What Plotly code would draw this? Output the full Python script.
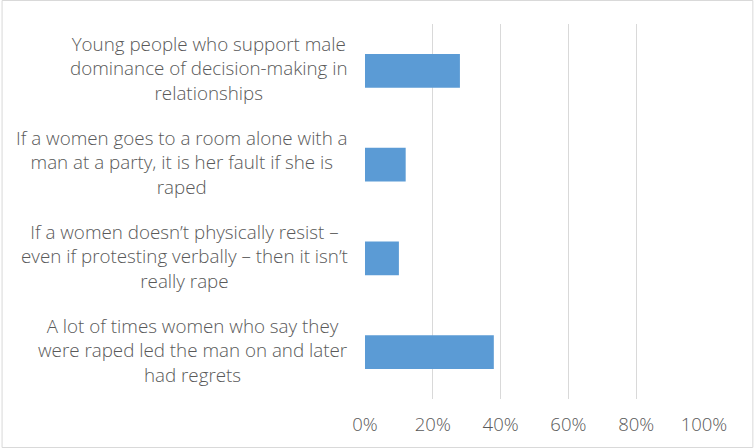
import plotly.graph_objects as go

categories = [
    "Young people who support male<br>dominance of decision-making in<br>relationships",
    "If a women goes to a room alone with a<br>man at a party, it is her fault if she is<br>raped",
    "If a women doesn\u2019t physically resist \u2013<br>even if protesting verbally \u2013 then it isn\u2019t<br>really rape",
    "A lot of times women who say they<br>were raped led the man on and later<br>had regrets",
]
values = [0.28, 0.12, 0.10, 0.38]
tick_vals = [0, 0.2, 0.4, 0.6, 0.8, 1.0]
tick_text = ["0%", "20%", "40%", "60%", "80%", "100%"]

W, H = 754, 448
L, R, T, B = 364.5, 49.5, 24, 49
pw, ph = W - L - R, H - T - B

FONT = "Open Sans"
GREY = "#595959"

fig = go.Figure(go.Bar(
    x=values, y=list(range(len(categories))), orientation="h",
    marker=dict(color="#5b9bd5", line=dict(width=0)),
    hoverinfo="skip",
))

annotations = []
for i, c in enumerate(categories):
    annotations.append(dict(
        x=0, xref="paper", y=i, yref="y", text=c, showarrow=False,
        xanchor="right", yanchor="middle", align="center", xshift=-15, yshift=2,
        font=dict(family=FONT, size=18.8, color=GREY, weight=300),
    ))

fig.update_layout(
    width=W, height=H,
    margin=dict(l=L, r=R, t=T, b=B, pad=0),
    paper_bgcolor="white", plot_bgcolor="white",
    bargap=0.64,
    showlegend=False,
    annotations=annotations,
    xaxis=dict(
        range=[0, 1], tickvals=tick_vals, ticktext=tick_text,
        showgrid=True, gridcolor="#d9d9d9", gridwidth=1,
        zeroline=False, showline=False, ticks="",
        tickfont=dict(family=FONT, size=18.5, color=GREY, weight=300),
        ticklabelstandoff=12, fixedrange=True,
    ),
    yaxis=dict(
        range=[len(categories) - 0.5, -0.5], showticklabels=False,
        showgrid=False, zeroline=False, showline=False, ticks="",
        fixedrange=True,
    ),
    shapes=[dict(
        type="rect", xref="paper", yref="paper",
        x0=(0.5 - L) / pw, x1=(W - 0.5 - L) / pw,
        y0=(H - B - (H - 0.5)) / ph, y1=(H - B - 0.5) / ph,
        line=dict(color="#d9d9d9", width=1), fillcolor="rgba(0,0,0,0)",
        layer="below",
    )],
)

fig.write_html("out.html", config={"displayModeBar": False})
